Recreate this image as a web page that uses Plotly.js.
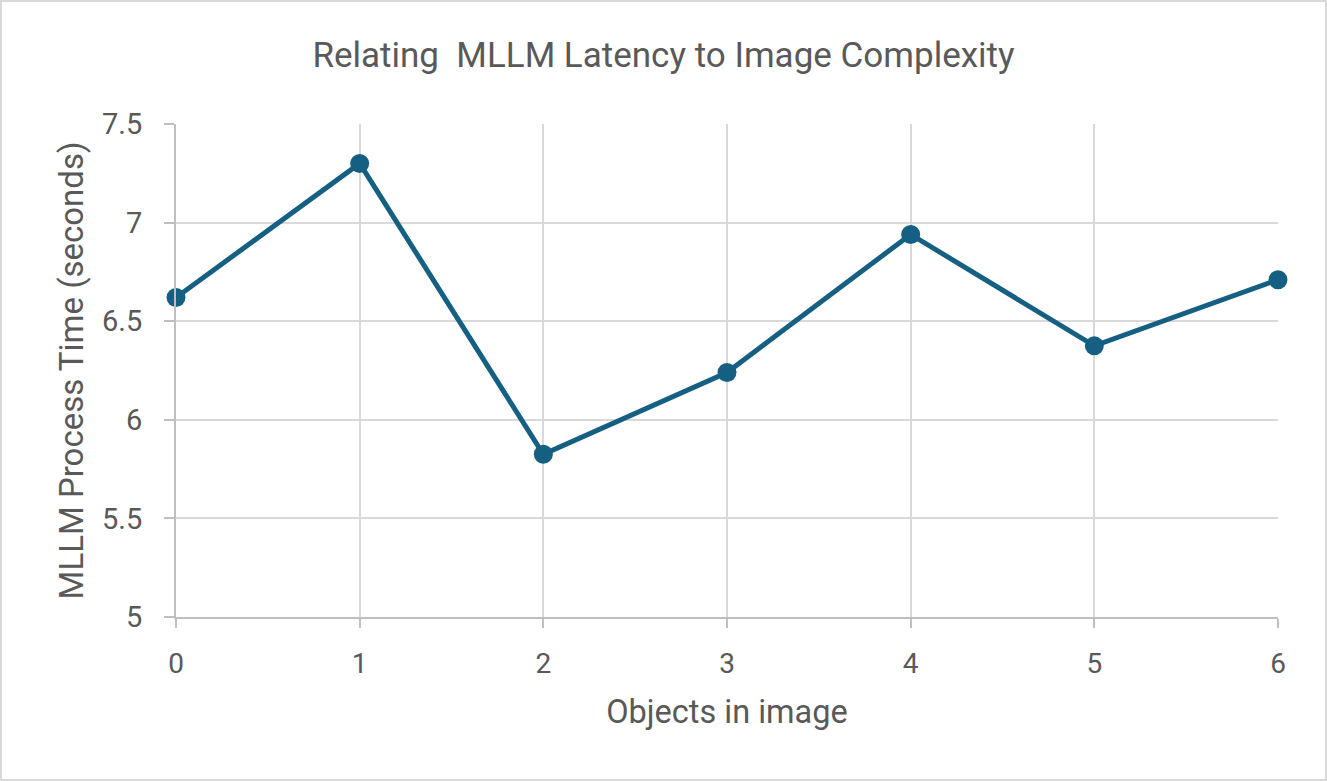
<!DOCTYPE html>
<html>
<head>
<meta charset="utf-8">
<script src="https://cdn.plot.ly/plotly-3.0.1.min.js"></script>
<style>
  html, body { margin: 0; padding: 0; background: #ffffff; }
  #chart { position: absolute; left: 0; top: 0; width: 1327px; height: 781px; }
  #frame { position: absolute; left: 0; top: 0; width: 1327px; height: 781px; box-sizing: border-box; border: 2px solid #d9d9d9; pointer-events: none; }
</style>
</head>
<body>
<div id="chart"></div>
<div id="frame"></div>
<script>
const objectsInImage = [0, 1, 2, 3, 4, 5, 6];
const processTime = [6.62, 7.30, 5.825, 6.24, 6.94, 6.375, 6.71];
const yTickVals = [5, 5.5, 6, 6.5, 7, 7.5];
const yTickText = ['5', '5.5', '6', '6.5', '7', '7.5'];

const FONT = 'Roboto, "Open Sans", sans-serif';
const TEXT = '#595959';

const trace = {
  x: objectsInImage,
  y: processTime,
  type: 'scatter',
  mode: 'lines+markers',
  line: { color: '#156082', width: 5 },
  marker: { color: '#156082', size: 19 },
  cliponaxis: false,
  hoverinfo: 'x+y'
};

const layout = {
  width: 1327,
  height: 781,
  margin: { l: 176, r: 49, t: 124, b: 164 },
  paper_bgcolor: '#ffffff',
  plot_bgcolor: '#ffffff',
  showlegend: false,
  font: { family: FONT, color: TEXT },
  title: {
    text: 'Relating  MLLM Latency to Image Complexity',
    font: { family: FONT, size: 35, color: TEXT },
    x: 0.5, xanchor: 'center', y: 0.93, yanchor: 'middle'
  },
  xaxis: {
    range: [0, 6],
    tickvals: objectsInImage,
    ticktext: objectsInImage.map(String),
    showgrid: true,
    gridcolor: '#d9d9d9',
    gridwidth: 2,
    zeroline: false,
    showline: true,
    linecolor: '#bfbfbf',
    linewidth: 2,
    ticks: 'outside',
    ticklen: 9,
    tickwidth: 2,
    tickcolor: '#bfbfbf',
    ticklabelstandoff: 11,
    tickfont: { family: FONT, size: 28, color: TEXT },
    title: { text: 'Objects in image', font: { family: FONT, size: 32.5, color: TEXT }, standoff: 22 },
    fixedrange: true
  },
  yaxis: {
    range: [5, 7.5],
    tickvals: yTickVals,
    ticktext: yTickText,
    showgrid: true,
    gridcolor: '#d9d9d9',
    gridwidth: 2,
    zeroline: false,
    showline: true,
    linecolor: '#bfbfbf',
    linewidth: 2,
    ticks: 'outside',
    ticklen: 10,
    tickwidth: 2,
    tickcolor: '#bfbfbf',
    ticklabelstandoff: 16,
    tickfont: { family: FONT, size: 29, color: TEXT },
    title: { text: 'MLLM Process Time (seconds)', font: { family: FONT, size: 33, color: TEXT }, standoff: 8 },
    fixedrange: true
  }
};

Plotly.newPlot('chart', [trace], layout, { displayModeBar: false });
</script>
</body>
</html>
